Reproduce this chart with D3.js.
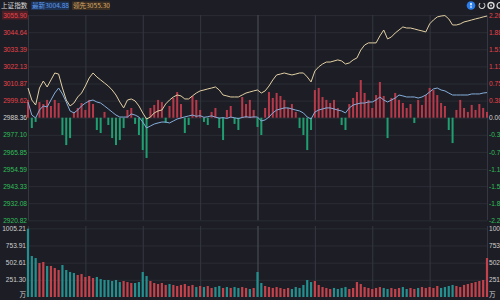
<!DOCTYPE html>
<html><head><meta charset="utf-8">
<script src="https://cdn.jsdelivr.net/npm/d3@7/dist/d3.min.js"></script>
<style>
html,body{margin:0;padding:0;background:#1d1e25;}
svg{display:block;}
text{font-family:"Liberation Sans",Arial,sans-serif;}
</style></head><body>
<svg id="c" width="500" height="300"></svg>
<script>
// ---- data ----
const title = "上证指数";
const latestLabel = "最新3004.88";
const leadLabel = "领先3055.30";
const preClose = 2988.36;
const priceTicks = [3055.90,3044.64,3033.39,3022.13,3010.87,2999.62,2988.36,2977.10,2965.85,2954.59,2943.33,2932.08,2920.82];
const pctTicks = ["2.26%","1.88%","1.51%","1.13%","0.75%","0.38%","0.00%","-0.38%","-0.75%","-1.13%","-1.51%","-1.88%","-2.26%"];
const volTicks = [1005.21,753.91,502.61,251.30];
const volUnit = "万";
const timeTicks = [0,15,30,45,60,75,90,105,120];

const indexLine = [2998.7,2990.1,2988.2,2993.4,2996.1,2995.4,3000.0,3004.6,3007.9,3004.0,
2998.7,2992.8,2991.5,2993.4,2996.1,2998.0,2999.4,3000.0,2998.7,2998.0,
2996.1,2994.1,2992.1,2990.1,2988.8,2988.8,2988.8,2990.8,2990.1,2988.8,
2985.5,2981.6,2982.9,2984.2,2984.9,2985.5,2985.5,2984.9,2986.2,2987.5,
2988.2,2988.9,2989.5,2990.1,2989.3,2989.7,2988.6,2989.0,2989.6,2988.7,
2988.1,2988.4,2987.9,2988.8,2988.3,2987.8,2988.5,2989.0,2988.6,2988.9,
2988.8,2986.2,2986.9,2988.8,2991.5,2993.4,2994.1,2994.8,2994.8,2994.1,
2993.4,2992.8,2991.5,2988.8,2987.5,2992.1,2993.4,2994.1,2994.8,2994.8,
2994.1,2993.4,2992.8,2991.5,2994.8,2996.7,2997.4,2998.0,2998.0,2998.7,
2998.7,3000.0,3002.0,3000.0,2998.7,3000.0,3001.3,3003.3,3002.7,3002.0,
3002.0,3002.0,3001.3,3002.0,3003.3,3005.3,3007.3,3007.9,3006.6,3006.0,
3004.6,3003.3,3003.3,3003.3,3003.3,3003.3,3004.0,3004.0,3004.0,3004.6,
3004.88];

const leadLine = [3007.9,3000.0,2996.7,3007.9,3012.5,3008.6,3013.2,3017.8,3017.1,3007.9,
3000.0,2996.1,2998.0,3002.0,3004.6,3009.2,3014.5,3017.8,3015.2,3013.2,
3011.2,3009.2,3006.6,3003.3,2998.7,2994.8,3000.0,3000.7,2999.4,2996.1,
2991.5,2987.5,2988.8,2991.5,2992.8,2993.4,2997.4,3000.0,3002.0,3003.3,
3002.7,3000.7,3000.7,3002.7,3004.6,3006.0,3006.6,3007.3,3007.9,3008.6,
3006.6,3003.3,3002.7,3002.0,3002.0,3002.0,3003.3,3004.6,3005.3,3006.0,
3006.6,3004.6,3006.0,3009.2,3013.2,3016.5,3017.1,3017.8,3017.1,3016.5,
3017.1,3017.8,3017.8,3015.2,3011.9,3019.1,3021.8,3023.7,3025.0,3025.0,
3025.7,3026.4,3025.7,3023.7,3024.4,3026.4,3027.7,3032.9,3036.2,3037.6,
3037.6,3037.6,3042.2,3046.1,3040.2,3041.5,3044.1,3046.1,3048.1,3047.4,
3047.4,3046.8,3046.1,3045.5,3044.8,3050.1,3052.7,3054.7,3055.3,3055.6,
3053.4,3049.4,3049.4,3050.1,3051.4,3052.0,3052.7,3053.4,3054.0,3054.7,
3055.30];

const forceBars = [11.7,-6.8,-2.8,10.3,9.0,11.7,7.7,11.7,9.7,-11.4,
-18.0,-13.4,3.8,6.4,9.7,5.1,11.7,9.0,-8.1,-10.1,
3.8,-4.8,-13.4,-18.0,-14.7,-6.8,5.1,6.4,-4.1,-11.4,
-21.3,-26.5,6.4,8.4,11.7,10.3,-3.5,7.7,13.0,16.9,
9.0,-10.1,-4.8,14.3,11.7,5.1,-2.8,-4.8,3.8,6.4,
-6.8,-14.7,5.1,7.7,-4.1,-8.1,13.6,9.0,11.7,5.1,
-6.1,-11.4,6.4,16.9,13.0,16.3,14.3,11.7,6.4,9.0,
3.8,-6.8,-11.4,-21.3,-8.1,18.2,19.6,13.6,11.7,9.7,
11.7,6.4,-4.8,-8.1,9.0,13.0,16.9,24.8,16.3,11.7,
6.4,14.9,23.5,14.3,-13.4,13.0,16.3,11.7,9.7,6.4,
9.0,-3.5,11.7,8.4,14.9,19.6,18.2,14.9,9.7,7.7,
-8.1,-16.7,5.1,11.7,6.4,3.8,8.4,5.1,9.0,6.4,
3.8];

const volume = [1000,600,570,497,512,454,454,424,395,468,
395,366,351,322,336,293,307,278,293,263,
249,249,234,249,219,234,219,205,205,219,
366,307,234,205,190,205,176,190,176,161,
176,190,161,176,146,161,146,161,132,146,
161,132,146,132,146,132,146,132,117,132,
366,205,161,146,132,146,132,117,132,117,
146,132,176,249,219,234,176,146,132,117,
132,117,132,146,117,132,219,190,146,132,
117,132,146,132,117,132,117,132,146,117,
132,117,132,146,132,146,132,161,132,146,
161,176,161,146,176,190,205,219,234,249,
570];

// ---- styles ----
const C = {
  grid:"#2a2c34", vgrid:"#353741", mid:"#50525c",
  up:"#e8424a", down:"#2fbf5a", flat:"#d4d4d4",
  barUp:"#b8394a", barDown:"#1f9e70",
  volUp:"#c4424c", volDown:"#23908f",
  lead:"#e2d0a4", idx:"#86aedb"
};

const svg = d3.select("#c");
const x = d3.scaleLinear().domain([0,120]).range([28,487]);
const yP = d3.scaleLinear().domain([2920.82,3055.90]).range([220.3,15.1]);
const yV = d3.scaleLinear().domain([0,1005.21]).range([297,228.3]);

function colorFor(v){ return v>preClose+0.001?C.up:(v<preClose-0.001?C.down:C.flat); }

// horizontal grid (price)
const gGrid = svg.append("g").attr("transform","translate(28,0)")
  .call(d3.axisLeft(yP).tickValues(priceTicks).tickSize(-459).tickFormat(""));
gGrid.select(".domain").remove();
gGrid.selectAll("line").attr("stroke",C.grid).attr("stroke-width",1);

// horizontal grid (volume)
const gVG = svg.append("g").attr("transform","translate(28,0)")
  .call(d3.axisLeft(yV).tickValues(volTicks).tickSize(-459).tickFormat(""));
gVG.select(".domain").remove();
gVG.selectAll("line").attr("stroke",C.grid);

// vertical grid
[[15.1,220.3],[226,297]].forEach(([a,b])=>{
  const gx = svg.append("g").attr("transform",`translate(0,${b})`)
    .call(d3.axisBottom(x).tickValues(timeTicks).tickSize(-(b-a)).tickFormat(""));
  gx.select(".domain").remove();
  gx.selectAll("line").attr("stroke",d=>d===60?C.mid:C.vgrid);
});

// force bars
svg.append("g").selectAll("rect").data(forceBars).join("rect")
  .attr("x",(d,i)=>x(i)-1)
  .attr("width",2)
  .attr("y",d=>Math.min(yP(preClose),yP(preClose+d)))
  .attr("height",d=>Math.abs(yP(preClose+d)-yP(preClose)))
  .attr("fill",d=>d>=0?C.barUp:C.barDown);

// volume bars
svg.append("g").selectAll("rect").data(volume).join("rect")
  .attr("x",(d,i)=>x(i)-1.1)
  .attr("width",2.2)
  .attr("y",d=>yV(d))
  .attr("height",d=>yV(0)-yV(d))
  .attr("fill",(d,i)=> i===0 ? C.volDown : (indexLine[i]>=indexLine[i-1]?C.volUp:C.volDown));

// lines
const line = d3.line().x((d,i)=>x(i)).y(d=>yP(d));
svg.append("path").datum(leadLine).attr("d",line)
  .attr("fill","none").attr("stroke",C.lead).attr("stroke-width",1);
svg.append("path").datum(indexLine).attr("d",line)
  .attr("fill","none").attr("stroke",C.idx).attr("stroke-width",1);

// left price axis labels
const gL = svg.append("g").attr("transform","translate(27,0)")
  .call(d3.axisLeft(yP).tickValues(priceTicks).tickSize(0).tickPadding(0).tickFormat(d3.format(".2f")));
gL.select(".domain").remove();
gL.selectAll("text").attr("font-size",6.6).attr("fill",d=>colorFor(d));
const topY = yP(priceTicks[0]);
svg.insert("rect","g").attr("x",2).attr("y",topY-4.5).attr("width",26).attr("height",9).attr("fill","#4a1f26");

// right percent labels (clipped by the frame edge, as in the original)
const gR = svg.append("g").attr("transform","translate(489,0)")
  .call(d3.axisRight(yP).tickValues(priceTicks).tickSize(0).tickPadding(0)
    .tickFormat((d,i)=>pctTicks[i]));
gR.select(".domain").remove();
gR.selectAll("text").attr("font-size",6.6).attr("fill",d=>colorFor(d));

// volume labels left
const gVL = svg.append("g").attr("transform","translate(26,0)")
  .call(d3.axisLeft(yV).tickValues(volTicks).tickSize(0).tickPadding(0).tickFormat(d3.format(".2f")));
gVL.select(".domain").remove();
gVL.selectAll("text").attr("font-size",6.6).attr("fill","#cfcfcf");
svg.append("text").attr("x",26).attr("y",297).attr("text-anchor","end")
  .attr("font-size",6.6).attr("fill","#cfcfcf").style("font-family","'Noto Sans CJK SC'").text(volUnit);

// volume labels right
const gVR = svg.append("g").attr("transform","translate(489,0)")
  .call(d3.axisRight(yV).tickValues(volTicks).tickSize(0).tickPadding(0).tickFormat(d3.format(".2f")));
gVR.select(".domain").remove();
gVR.selectAll("text").attr("font-size",6.6).attr("fill","#cfcfcf");
svg.append("text").attr("x",489).attr("y",297)
  .attr("font-size",6.6).attr("fill","#cfcfcf").style("font-family","'Noto Sans CJK SC'").text(volUnit);

// header
const hdr = svg.append("g");
hdr.append("text").attr("x",1).attr("y",8).attr("font-size",6.6).attr("fill","#d8d8d8")
  .style("font-family","'Noto Sans CJK SC'").text(title);
hdr.append("rect").attr("x",31).attr("y",1.5).attr("width",38).attr("height",8.5).attr("fill","#1f3150");
hdr.append("text").attr("x",32).attr("y",8).attr("font-size",6.6).attr("fill","#5d9ef0")
  .style("font-family","'Noto Sans CJK SC'").text(latestLabel);
hdr.append("rect").attr("x",72).attr("y",1.5).attr("width",38).attr("height",8.5).attr("fill","#3a2f22");
hdr.append("text").attr("x",73).attr("y",8).attr("font-size",6.6).attr("fill","#dba96a")
  .style("font-family","'Noto Sans CJK SC'").text(leadLabel);

// top-right icons
const ic = svg.append("g");
ic.append("circle").attr("cx",471).attr("cy",5.5).attr("r",4.3).attr("fill","#2b7de9");
ic.append("circle").attr("cx",471).attr("cy",4).attr("r",1).attr("fill","#fff");
ic.append("line").attr("x1",471).attr("x2",471).attr("y1",5.5).attr("y2",8).attr("stroke","#fff").attr("stroke-width",1);
ic.append("path").attr("d",d3.arc()({innerRadius:2.4,outerRadius:3.4,startAngle:0.6,endAngle:5.6}))
  .attr("transform","translate(482,5.5)").attr("fill","#d8d8d8");
ic.append("circle").attr("cx",491).attr("cy",5.5).attr("r",3).attr("fill","none").attr("stroke","#d8d8d8").attr("stroke-width",1.4);
ic.append("circle").attr("cx",491).attr("cy",5.5).attr("r",0.9).attr("fill","#d8d8d8");
ic.append("circle").attr("cx",500).attr("cy",5.5).attr("r",3).attr("fill","none").attr("stroke","#d8d8d8").attr("stroke-width",1.2);
</script>
</body></html>
